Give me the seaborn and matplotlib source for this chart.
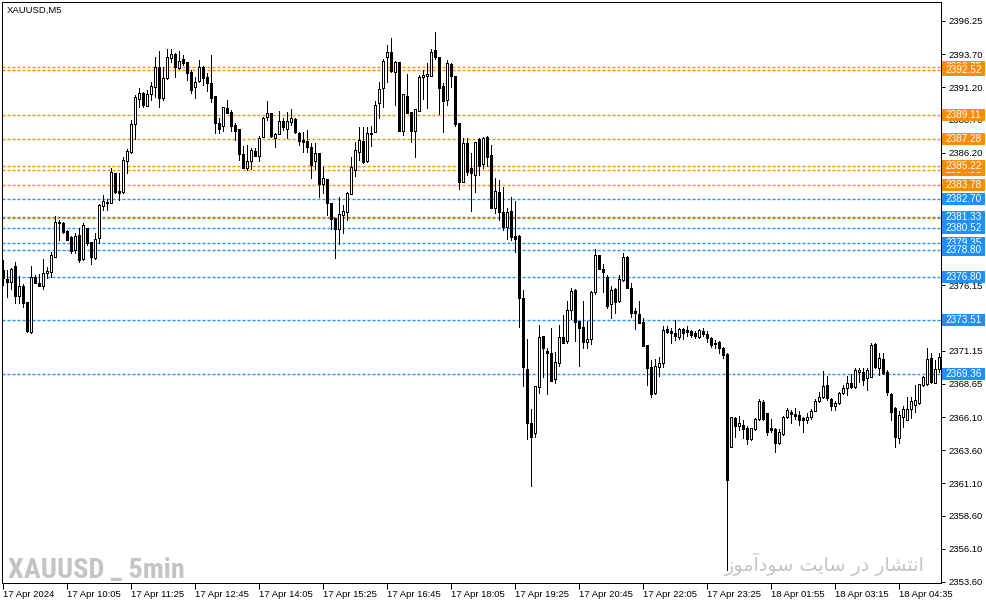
import matplotlib
matplotlib.use("Agg")
import matplotlib.pyplot as plt
import matplotlib.transforms as mtransforms
from matplotlib import font_manager as fm
from matplotlib.patches import Rectangle
import numpy as np
import pandas as pd
import seaborn as sns

# ─── Data (XAUUSD M5) ─────────────────────────────────────────────────────────
open_ = [
    2377.29, 2376.60, 2376.37, 2377.59, 2375.31, 2376.07, 2374.85, 2372.57, 2376.75, 2376.30,
    2376.07, 2377.06, 2377.13, 2378.28, 2380.94, 2380.86, 2380.25, 2379.80, 2378.81, 2379.95,
    2378.12, 2380.48, 2379.42, 2378.20, 2379.72, 2382.15, 2382.46, 2382.38, 2384.66, 2383.29,
    2383.22, 2385.58, 2386.26, 2388.39, 2390.29, 2390.75, 2389.76, 2390.67, 2391.20, 2392.72,
    2390.37, 2391.89, 2393.41, 2393.71, 2392.65, 2393.33, 2393.10, 2392.34, 2391.20, 2391.66,
    2392.72, 2391.96, 2391.51, 2390.52, 2388.47, 2388.24, 2389.61, 2389.30, 2388.31, 2388.01,
    2386.11, 2385.04, 2385.58, 2386.34, 2385.96, 2387.40, 2388.92, 2389.23, 2387.33, 2387.63,
    2388.62, 2388.01, 2388.54, 2388.77, 2387.71, 2387.17, 2387.10, 2386.64, 2385.58, 2386.18,
    2383.83, 2384.21, 2382.38, 2381.24, 2380.40, 2381.47, 2381.70, 2383.07, 2384.89, 2386.26,
    2387.10, 2385.58, 2387.71, 2387.78, 2389.99, 2391.13, 2393.49, 2393.87, 2392.34, 2393.10,
    2387.86, 2390.52, 2389.30, 2387.86, 2389.38, 2391.96, 2392.04, 2392.04, 2394.02, 2393.49,
    2391.28, 2390.22, 2392.95, 2392.04, 2388.47, 2383.98, 2386.94, 2385.04, 2384.51, 2387.25,
    2385.35, 2387.40, 2386.03, 2382.00, 2383.22, 2381.70, 2380.56, 2381.77, 2379.87, 2379.87,
    2375.16, 2369.76, 2365.65, 2364.89, 2368.39, 2372.27, 2371.13, 2370.98, 2368.99, 2370.21,
    2372.19, 2371.89, 2374.24, 2375.77, 2373.41, 2372.95, 2371.81, 2372.04, 2375.61, 2378.43,
    2377.36, 2376.75, 2374.70, 2375.84, 2374.93, 2376.53, 2378.28, 2375.92, 2374.17, 2373.94,
    2373.33, 2371.58, 2369.91, 2367.93, 2369.91, 2370.21, 2372.80, 2372.65, 2372.50, 2372.19,
    2372.80, 2372.72, 2372.65, 2372.50, 2372.19, 2372.65, 2372.42, 2372.12, 2371.73, 2371.81,
    2371.35, 2370.90, 2363.83, 2366.03, 2365.42, 2365.50, 2365.27, 2364.43, 2365.20, 2365.96,
    2367.25, 2366.41, 2365.27, 2365.20, 2364.13, 2364.82, 2366.11, 2366.49, 2366.34, 2366.26,
    2366.03, 2365.88, 2366.11, 2366.56, 2367.33, 2367.63, 2368.54, 2367.48, 2366.94, 2367.17,
    2367.93, 2368.31, 2368.69, 2368.39, 2369.53, 2369.53, 2369.07, 2369.15, 2371.66, 2369.83,
    2370.52, 2369.53, 2367.86, 2366.79, 2364.51, 2366.11, 2365.88, 2366.72, 2367.02, 2367.17,
    2368.54, 2368.62, 2370.60, 2368.69, 2369.76,
]
high_ = [
    2378.05, 2377.29, 2377.44, 2377.89, 2376.83, 2376.22, 2374.85, 2377.59, 2376.91, 2376.98,
    2378.12, 2377.51, 2378.66, 2381.39, 2381.09, 2380.94, 2380.33, 2379.87, 2380.10, 2380.48,
    2380.86, 2380.48, 2379.42, 2380.10, 2382.31, 2382.99, 2382.69, 2385.04, 2384.66, 2384.66,
    2385.88, 2386.49, 2388.69, 2390.60, 2391.13, 2390.82, 2390.98, 2391.58, 2393.49, 2393.94,
    2392.72, 2394.09, 2394.09, 2393.79, 2393.94, 2393.64, 2393.10, 2392.50, 2391.96, 2393.26,
    2392.80, 2392.27, 2393.64, 2390.52, 2388.85, 2389.68, 2390.22, 2389.46, 2388.47, 2388.01,
    2386.72, 2386.79, 2386.57, 2386.57, 2387.48, 2388.92, 2390.14, 2389.23, 2387.71, 2389.38,
    2388.85, 2389.30, 2389.53, 2388.85, 2387.78, 2387.78, 2387.93, 2386.94, 2386.94, 2386.18,
    2385.12, 2384.21, 2382.38, 2381.24, 2382.84, 2382.23, 2383.22, 2385.88, 2387.02, 2388.16,
    2388.16, 2388.16, 2388.24, 2390.14, 2391.58, 2393.33, 2394.40, 2394.93, 2393.18, 2393.10,
    2390.67, 2392.19, 2389.30, 2389.53, 2392.12, 2392.50, 2393.03, 2394.09, 2395.39, 2393.49,
    2391.51, 2393.26, 2393.03, 2392.04, 2388.47, 2387.33, 2387.33, 2386.18, 2387.02, 2387.33,
    2387.40, 2387.48, 2386.79, 2384.28, 2384.13, 2383.60, 2382.00, 2382.84, 2382.53, 2379.95,
    2375.77, 2372.04, 2366.72, 2368.46, 2373.10, 2372.27, 2371.35, 2372.87, 2371.05, 2373.10,
    2373.86, 2374.93, 2375.92, 2375.84, 2373.41, 2374.93, 2373.41, 2375.69, 2378.88, 2378.43,
    2377.74, 2376.91, 2376.07, 2375.92, 2376.91, 2378.58, 2378.35, 2376.30, 2374.40, 2374.93,
    2373.64, 2371.58, 2370.44, 2370.52, 2370.67, 2373.03, 2373.03, 2372.87, 2373.48, 2372.87,
    2372.87, 2373.03, 2372.72, 2372.65, 2372.80, 2372.87, 2372.65, 2372.19, 2371.96, 2371.89,
    2371.43, 2370.98, 2366.11, 2366.11, 2366.18, 2365.88, 2365.42, 2365.27, 2366.03, 2367.48,
    2367.40, 2366.41, 2365.96, 2365.27, 2365.20, 2366.18, 2366.79, 2366.64, 2366.79, 2366.56,
    2366.11, 2366.41, 2366.72, 2367.48, 2368.01, 2369.61, 2369.23, 2367.55, 2367.33, 2368.01,
    2368.54, 2369.23, 2369.38, 2369.83, 2369.83, 2369.83, 2369.83, 2371.73, 2371.73, 2370.98,
    2370.98, 2369.68, 2367.93, 2366.87, 2366.56, 2366.94, 2367.63, 2367.63, 2368.54, 2368.62,
    2369.23, 2371.35, 2370.98, 2370.44, 2370.98,
]
low_ = [
    2376.15, 2375.23, 2375.84, 2374.78, 2374.78, 2374.47, 2372.57, 2372.50, 2376.30, 2376.07,
    2375.84, 2376.68, 2376.75, 2378.28, 2379.57, 2380.10, 2379.57, 2378.58, 2378.58, 2377.89,
    2378.05, 2379.19, 2377.74, 2378.12, 2379.34, 2381.85, 2381.85, 2382.38, 2383.14, 2382.61,
    2383.14, 2384.66, 2386.18, 2387.25, 2389.68, 2389.68, 2389.76, 2390.22, 2390.44, 2389.68,
    2390.22, 2391.81, 2393.10, 2391.96, 2392.57, 2392.88, 2391.74, 2390.75, 2390.37, 2391.58,
    2391.36, 2390.90, 2390.06, 2387.71, 2387.71, 2387.86, 2389.23, 2387.86, 2387.17, 2385.65,
    2385.04, 2384.89, 2384.97, 2385.96, 2385.58, 2387.40, 2388.69, 2387.40, 2386.64, 2387.63,
    2387.93, 2387.33, 2388.31, 2387.71, 2386.79, 2386.26, 2386.26, 2384.28, 2384.97, 2382.84,
    2383.14, 2381.47, 2380.40, 2378.20, 2379.26, 2380.10, 2381.09, 2383.07, 2384.44, 2385.65,
    2385.42, 2385.50, 2386.72, 2387.78, 2388.85, 2389.68, 2391.58, 2392.34, 2389.83, 2387.86,
    2387.55, 2389.23, 2387.02, 2385.88, 2389.38, 2390.29, 2389.61, 2392.04, 2393.33, 2389.15,
    2387.78, 2389.83, 2391.20, 2388.24, 2383.45, 2383.98, 2384.51, 2381.77, 2383.22, 2384.51,
    2385.04, 2385.20, 2382.00, 2381.62, 2381.09, 2380.33, 2379.64, 2379.57, 2378.66, 2372.95,
    2368.46, 2364.43, 2360.86, 2364.58, 2367.93, 2369.15, 2367.86, 2368.84, 2368.69, 2369.99,
    2371.73, 2371.73, 2373.56, 2371.89, 2369.99, 2371.35, 2371.35, 2371.66, 2375.46, 2377.36,
    2375.61, 2374.40, 2373.64, 2374.02, 2374.85, 2376.45, 2375.92, 2373.71, 2372.80, 2373.26,
    2371.51, 2368.54, 2367.63, 2367.86, 2369.23, 2369.91, 2372.50, 2371.73, 2371.96, 2372.04,
    2372.04, 2372.27, 2372.19, 2372.12, 2372.12, 2372.27, 2371.81, 2371.43, 2371.35, 2370.98,
    2370.60, 2354.47, 2363.83, 2364.58, 2365.12, 2364.51, 2364.05, 2364.36, 2365.12, 2365.88,
    2365.88, 2364.74, 2364.97, 2363.45, 2364.05, 2364.74, 2366.03, 2365.65, 2365.96, 2365.50,
    2364.97, 2365.65, 2365.96, 2366.56, 2367.25, 2367.55, 2367.40, 2366.64, 2366.64, 2367.10,
    2367.86, 2367.78, 2368.31, 2368.31, 2368.77, 2368.54, 2368.16, 2369.15, 2369.83, 2369.30,
    2369.38, 2367.78, 2365.88, 2363.83, 2364.13, 2365.35, 2365.88, 2366.03, 2366.49, 2367.10,
    2368.46, 2368.54, 2368.69, 2368.69, 2369.53,
]
close_ = [
    2376.68, 2376.37, 2377.36, 2375.31, 2376.07, 2374.78, 2372.65, 2376.75, 2376.30, 2376.07,
    2377.06, 2377.21, 2378.43, 2380.94, 2380.86, 2380.18, 2379.57, 2378.73, 2379.87, 2378.05,
    2380.71, 2379.34, 2378.28, 2379.64, 2382.23, 2382.53, 2382.38, 2384.74, 2383.22, 2383.14,
    2385.65, 2386.34, 2388.39, 2390.44, 2390.75, 2389.83, 2390.67, 2391.28, 2392.72, 2390.37,
    2391.89, 2393.49, 2393.71, 2392.72, 2393.18, 2393.03, 2392.27, 2390.98, 2391.58, 2392.72,
    2391.89, 2391.51, 2390.37, 2388.47, 2388.01, 2389.68, 2389.23, 2388.24, 2387.86, 2386.11,
    2385.04, 2385.58, 2386.41, 2385.96, 2387.33, 2388.85, 2389.23, 2387.48, 2387.63, 2388.62,
    2388.16, 2388.62, 2388.85, 2387.78, 2387.10, 2387.02, 2386.64, 2385.27, 2386.18, 2383.83,
    2384.28, 2382.38, 2381.17, 2380.40, 2381.55, 2381.77, 2383.14, 2385.12, 2386.41, 2387.17,
    2385.50, 2387.71, 2387.63, 2389.83, 2391.05, 2393.18, 2393.87, 2392.42, 2393.10, 2387.86,
    2390.67, 2389.23, 2387.86, 2389.53, 2391.96, 2392.12, 2392.19, 2393.87, 2393.49, 2391.13,
    2390.14, 2393.03, 2392.04, 2388.39, 2383.98, 2386.94, 2384.74, 2384.66, 2387.02, 2385.20,
    2387.33, 2385.88, 2382.00, 2383.29, 2381.70, 2380.56, 2381.70, 2379.80, 2379.64, 2375.16,
    2369.91, 2365.65, 2364.58, 2368.46, 2372.19, 2371.35, 2370.98, 2368.84, 2370.29, 2372.19,
    2371.73, 2374.24, 2375.69, 2373.33, 2372.87, 2371.81, 2372.04, 2375.61, 2378.43, 2377.36,
    2377.13, 2374.55, 2375.77, 2374.85, 2376.60, 2378.28, 2375.92, 2374.02, 2374.02, 2373.26,
    2371.51, 2369.83, 2367.86, 2369.99, 2370.21, 2372.72, 2372.57, 2372.50, 2372.27, 2372.80,
    2372.50, 2372.57, 2372.34, 2372.27, 2372.72, 2372.42, 2372.12, 2371.58, 2371.66, 2371.35,
    2370.82, 2361.32, 2366.11, 2365.42, 2365.65, 2365.20, 2364.43, 2365.27, 2365.96, 2367.33,
    2365.96, 2364.97, 2365.12, 2364.13, 2364.97, 2366.11, 2366.64, 2366.34, 2366.18, 2365.88,
    2365.88, 2366.11, 2366.56, 2367.33, 2367.63, 2368.46, 2367.55, 2366.94, 2367.17, 2367.93,
    2368.31, 2368.69, 2368.39, 2369.68, 2369.68, 2368.92, 2369.68, 2371.58, 2369.91, 2370.60,
    2369.45, 2368.01, 2366.49, 2364.58, 2366.26, 2366.72, 2366.72, 2367.33, 2367.40, 2368.62,
    2369.15, 2370.52, 2368.77, 2369.76, 2370.67,
]

# time axis: bar index of each label and its text
time_tick_idx = [0, 16, 32, 48, 64, 80, 96, 112, 128, 144, 160, 176, 192, 208, 224]
time_tick_labels = [
    "17 Apr 2024", "17 Apr 10:05", "17 Apr 11:25", "17 Apr 12:45", "17 Apr 14:05",
    "17 Apr 15:25", "17 Apr 16:45", "17 Apr 18:05", "17 Apr 19:25", "17 Apr 20:45",
    "17 Apr 22:05", "17 Apr 23:25", "18 Apr 01:55", "18 Apr 03:15", "18 Apr 04:35",
]
price_ticks = [2396.25, 2393.70, 2391.20, 2388.70, 2386.20, 2383.70, 2381.15, 2378.65, 2376.15,
               2373.65, 2371.15, 2368.65, 2366.10, 2363.60, 2361.10, 2358.60, 2356.10, 2353.60]

# horizontal levels (drawn in this order, later ones on top)
level_prices = [2392.75, 2392.52, 2389.11, 2387.28, 2384.93, 2385.22, 2383.78, 2381.22,
                2382.70, 2381.33, 2380.52, 2379.35, 2378.80, 2376.80, 2373.51, 2369.36]
level_kinds = ["res"] * 8 + ["sup"] * 8

symbol_title = "XAUUSD,M5"
watermark_en = "XAUUSD _ 5min"
watermark_fa = "انتشار در سایت سودآموز"

# ─── Config ───────────────────────────────────────────────────────────────────
ORANGE = "#FF8C00"
BLUE = "#1E90FF"
LEVEL_COLORS = {"res": ORANGE, "sup": BLUE}
W, H = 987, 605
AX_L, AX_R, AX_T, AX_B = 2, 941.5, 2, 583      # plot frame in pixels
Y_LO, Y_HI = 2353.50, 2397.67
PX1 = 0.72                                     # one pixel in points
LEVEL_LW = 1.0                                 # level lines a bit heavier


# ─── Persian shaping (matplotlib has no RTL / joining support) ───────────────
FA_FORMS = {  # isolated, final, initial, medial
    "ا": ("\uFE8D", "\uFE8E", None, None),
    "آ": ("\uFE81", "\uFE82", None, None),
    "ن": ("\uFEE5", "\uFEE6", "\uFEE7", "\uFEE8"),
    "ت": ("\uFE95", "\uFE96", "\uFE97", "\uFE98"),
    "ش": ("\uFEB5", "\uFEB6", "\uFEB7", "\uFEB8"),
    "ر": ("\uFEAD", "\uFEAE", None, None),
    "د": ("\uFEA9", "\uFEAA", None, None),
    "س": ("\uFEB1", "\uFEB2", "\uFEB3", "\uFEB4"),
    "ی": ("\uFBFC", "\uFBFD", "\uFBFE", "\uFBFF"),
    "و": ("\uFEED", "\uFEEE", None, None),
    "م": ("\uFEE1", "\uFEE2", "\uFEE3", "\uFEE4"),
    "ز": ("\uFEAF", "\uFEB0", None, None),
}


def shape_fa(text):
    words = []
    for word in text.split(" "):
        chars = list(word)
        glyphs = []
        for k, ch in enumerate(chars):
            iso, fin, ini, med = FA_FORMS[ch]
            prev_joins = k > 0 and FA_FORMS[chars[k - 1]][2] is not None
            next_joins = k < len(chars) - 1 and ini is not None
            if prev_joins and next_joins:
                glyphs.append(med)
            elif prev_joins:
                glyphs.append(fin)
            elif next_joins:
                glyphs.append(ini)
            else:
                glyphs.append(iso)
        words.append("".join(reversed(glyphs)))
    return " ".join(reversed(words))


def condensed_bold_font():
    # pick any installed bold condensed face for the big watermark
    def wnum(w):
        return fm.weight_dict.get(w, 400) if isinstance(w, str) else w

    def narrow(s):
        if isinstance(s, str):
            return "condensed" in s
        return s < 500

    faces = [f for f in fm.fontManager.ttflist
             if narrow(f.stretch) and wnum(f.weight) >= 600 and f.style == "normal"]
    faces.sort(key=lambda f: (f.name not in ("Roboto Condensed", "Noto Sans", "Open Sans",
                                             "Liberation Sans Narrow"), f.name))
    if faces:
        return fm.FontProperties(fname=faces[0].fname)
    return fm.FontProperties(family="Liberation Sans", weight="bold")


def fit_width(text, renderer, width_px):
    bb = text.get_window_extent(renderer)
    text.set_fontsize(text.get_fontsize() * width_px / bb.width)


# ─── Build frame ──────────────────────────────────────────────────────────────
df = pd.DataFrame({"open": open_, "high": high_, "low": low_, "close": close_})
df["idx"] = np.arange(len(df))
df["bull"] = df["close"] >= df["open"]
df["body_lo"] = df[["open", "close"]].min(axis=1)
df["body_h"] = (df["close"] - df["open"]).abs().clip(lower=0.03)

sns.set_theme(style="white")
plt.rcParams["font.family"] = ["Liberation Sans", "DejaVu Sans"]

fig = plt.figure(figsize=(W / 100, H / 100), dpi=100)
fig.patch.set_facecolor("white")
ax = fig.add_axes([AX_L / W, 1 - AX_B / H, (AX_R - AX_L) / W, (AX_B - AX_T) / H])
ax.set_facecolor("white")

# levels: 3 px dash, 2 px gap
for price, kind in zip(level_prices, level_kinds):
    ax.axhline(price, color=LEVEL_COLORS[kind], lw=LEVEL_LW,
               ls=(0, (2.16 / LEVEL_LW, 1.44 / LEVEL_LW)), zorder=2)

# candles
ax.vlines(df["idx"], df["low"], df["high"], color="black", lw=PX1,
          antialiased=False, zorder=3)
ax.bar(df["idx"], df["body_h"], bottom=df["body_lo"], width=0.5,
       color=np.where(df["bull"], "white", "black"), edgecolor="black",
       linewidth=PX1, antialiased=False, zorder=4)

ax.set_xlim(-0.33, (AX_R - 3.3) / 4)
ax.set_ylim(Y_LO, Y_HI)

# price axis on the right
ax.yaxis.tick_right()
ax.set_yticks(price_ticks)
ax.set_yticklabels([f"{v:.2f}" for v in price_ticks])
ax.tick_params(axis="y", which="both", right=True, left=False, direction="out",
               length=3, width=PX1, pad=2, labelsize=6.8, colors="black")

# time axis
ax.set_xticks(time_tick_idx)
ax.set_xticklabels(time_tick_labels)
for lbl in ax.get_xticklabels():
    lbl.set_horizontalalignment("left")
ax.tick_params(axis="x", which="both", bottom=True, direction="out",
               length=4, width=PX1, pad=1, labelsize=6.8, colors="black")

for s in ax.spines.values():
    s.set_color("black")
    s.set_linewidth(PX1)
    s.set_visible(True)

# price labels of the levels
ax_w_px = AX_R - AX_L
ax_h_px = AX_B - AX_T
px_per_unit = ax_h_px / (Y_HI - Y_LO)
trans = mtransforms.blended_transform_factory(ax.transAxes, ax.transData)
box_x0 = (942 - AX_L) / ax_w_px
box_w = 43.5 / ax_w_px
box_h = 12 / px_per_unit
for k, (price, kind) in enumerate(zip(level_prices, level_kinds)):
    ax.add_patch(Rectangle((box_x0, price - box_h / 2), box_w, box_h, transform=trans,
                           facecolor=LEVEL_COLORS[kind], edgecolor="none",
                           clip_on=False, zorder=10 + 2 * k))
    ax.text(box_x0 + box_w / 2, price, f"{price:.2f}", transform=trans, ha="center",
            va="center", color="white", fontsize=7.2, zorder=11 + 2 * k, clip_on=False)

# symbol caption and watermarks
ax.text((7 - AX_L) / ax_w_px, 1 - (10 - AX_T) / ax_h_px, symbol_title,
        transform=ax.transAxes, ha="left", va="center", fontsize=6.8, color="black")
wm_en = ax.text((8 - AX_L) / ax_w_px, 1 - (578 - AX_T) / ax_h_px, watermark_en,
                transform=ax.transAxes, ha="left", va="baseline",
                fontproperties=condensed_bold_font(), fontsize=22,
                color="#C4C4C4", zorder=1)
wm_fa = ax.text((925 - AX_L) / ax_w_px, 1 - (571 - AX_T) / ax_h_px, shape_fa(watermark_fa),
                transform=ax.transAxes, ha="right", va="baseline", fontsize=15,
                color="#C4C4C4", family=["DejaVu Sans"], zorder=1)

fig.canvas.draw()
renderer = fig.canvas.get_renderer()
fit_width(wm_en, renderer, 177)
fit_width(wm_fa, renderer, 200)

fig.savefig("out.png", dpi=100, facecolor="white")
